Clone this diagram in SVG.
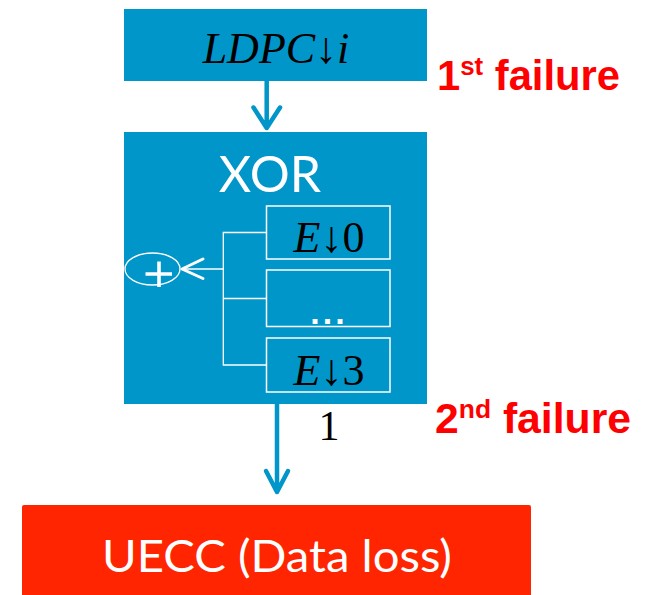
<svg xmlns="http://www.w3.org/2000/svg" width="650" height="595" viewBox="0 0 650 595">
<style>
.blue{fill:#0096C9}
.math{font-family:"Liberation Serif","DejaVu Serif",serif;font-style:italic;fill:#000}
.up{font-style:normal}
.fail{font-family:"Liberation Sans",Arial,sans-serif;font-weight:bold;fill:#FF0000;font-size:42px}
.wline{stroke:#fff;stroke-width:1.3;fill:none}
.inner{stroke:#fff;stroke-width:1.5;fill:none}
.conn{stroke:#0096C9;stroke-width:4.5;fill:none;stroke-linecap:round;stroke-linejoin:round}
</style>
<rect width="650" height="595" fill="#fff"/>
<g id="ldpc">
<rect class="blue" x="124" y="9" width="303" height="72"/>
<text class="math" x="276" y="63" font-size="44" text-anchor="middle">LDPC↓i</text>
</g>
<g id="label1">
<text class="fail" x="437" y="90" textLength="183" lengthAdjust="spacingAndGlyphs">1<tspan font-size="26" dy="-15">st</tspan><tspan dy="15"> failure</tspan></text>
</g>
<g id="xor">
<rect class="blue" x="124" y="132" width="303" height="272"/>
<text x="270" y="192" font-family="Lato,'Liberation Sans',sans-serif" font-size="50" fill="#fff" text-anchor="middle">XOR</text>
<g id="e0"><rect class="inner" x="266.5" y="206" width="123.5" height="53"/>
<text class="math" x="329" y="252" font-size="44" text-anchor="middle">E↓<tspan class="up">0</tspan></text></g>
<g id="emid"><rect class="inner" x="266.5" y="270" width="123.5" height="56.5"/>
<text x="329" y="324" font-family="'Liberation Sans',sans-serif" font-weight="bold" font-size="34" fill="#fff" text-anchor="middle" letter-spacing="3">...</text></g>
<g id="e3"><rect class="inner" x="266.5" y="338" width="123.5" height="54"/>
<text class="math" x="329" y="385" font-size="44" text-anchor="middle">E↓<tspan class="up">3</tspan></text></g>
<g id="xorop">
<ellipse cx="152.5" cy="269" rx="27.5" ry="16" class="wline"/>
<path d="M145.5 274H172M159 261.5V287" stroke="#fff" stroke-width="3.6" fill="none"/>
</g>
<g id="tree">
<path class="wline" d="M266.5 232.5H223.3V365H266.5M223.3 298.5H266.5M223.3 269H182"/>
<path d="M203 259L182 269L203 278.5" stroke="#fff" stroke-width="3" fill="none" stroke-linecap="round" stroke-linejoin="round"/>
</g>
</g>
<g id="label2">
<text class="fail" x="435" y="433" textLength="196" lengthAdjust="spacingAndGlyphs">2<tspan font-size="26" dy="-15">nd</tspan><tspan dy="15"> failure</tspan></text>
<text x="329" y="440" font-family="'Liberation Serif',serif" font-size="42" fill="#000" text-anchor="middle">1</text>
</g>
<g id="uecc">
<rect x="22" y="505" width="509" height="100" rx="2" fill="#FF2500"/>
<text x="277" y="572" font-family="Lato,'Liberation Sans',sans-serif" font-size="45" fill="#fff" text-anchor="middle" textLength="350" lengthAdjust="spacingAndGlyphs">UECC (Data loss)</text>
</g>
<g id="connectors">
<path class="conn" d="M266.7 81V128M253.5 107.5L266.7 128L280 107.5"/>
<path class="conn" d="M277 404V492M266 471L277 492L288 471"/>
</g>
</svg>
